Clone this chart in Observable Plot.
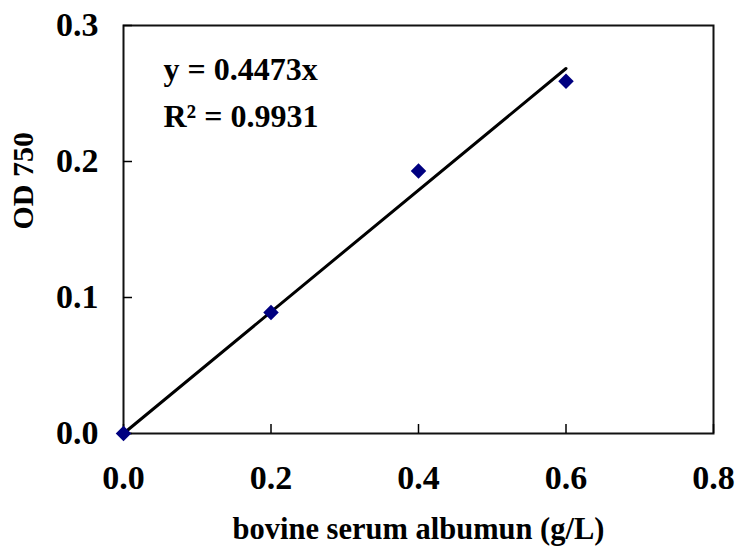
<!DOCTYPE html>
<html>
<head>
<meta charset="utf-8">
<script src="https://cdn.jsdelivr.net/npm/d3@7"></script>
<script src="https://cdn.jsdelivr.net/npm/@observablehq/plot@0.6"></script>
<style>
  body { margin: 0; background: #fff; }
  svg { display: block; }
</style>
</head>
<body>
<div id="chart"></div>
<script>
const concentration = [0, 0.2, 0.4, 0.6];
const od750 = [0, 0.089, 0.193, 0.259];
const slope = 0.4473;
const fitX = [0, 0.6];
const xTicks = [0, 0.2, 0.4, 0.6, 0.8];
const yTicks = [0, 0.1, 0.2, 0.3];
const equationLines = ["y = 0.4473x", "R² = 0.9931"];
const xLabel = "bovine serum albumun (g/L)";
const yLabel = "OD 750";

const points = concentration.map((x, i) => ({x, y: od750[i]}));
const fit = fitX.map(x => ({x, y: slope * x}));

const font = "'Liberation Serif', 'Times New Roman', serif";

const chart = Plot.plot({
  width: 736,
  height: 547,
  marginLeft: 123,
  marginRight: 23,
  marginTop: 25,
  marginBottom: 114,
  style: {fontFamily: font, fontWeight: "bold", fontSize: "30px", color: "#000", background: "#fff"},
  x: {domain: [0, 0.8], label: null},
  y: {domain: [0, 0.3], label: null},
  marks: [
    Plot.frame({stroke: "#111", strokeWidth: 2}),
    Plot.axisX(xTicks, {tickSize: 0, tickPadding: 31, tickFormat: d => d.toFixed(1), fontSize: 34, fontWeight: "bold"}),
    Plot.axisX(xTicks, {tickSize: -9, tickFormat: () => "", strokeWidth: 1.5}),
    Plot.axisY(yTicks, {tickSize: 0, tickPadding: 25, tickFormat: d => d.toFixed(1), fontSize: 34, fontWeight: "bold"}),
    Plot.axisY(yTicks, {tickSize: -9, tickFormat: () => "", strokeWidth: 1.5}),
    Plot.line(fit, {x: "x", y: "y", stroke: "#000", strokeWidth: 3}),
    Plot.dot(points, {x: "x", y: "y", symbol: "diamond2", r: 7, fill: "#000080", stroke: "none"}),
    Plot.text([equationLines.join("\n")], {
      frameAnchor: "top-left", dx: 40, dy: 22, lineHeight: 1.45, lineAnchor: "top",
      text: d => d, fontSize: 32, fontWeight: "bold", textAnchor: "start", fill: "#000"
    }),
    Plot.text([xLabel], {frameAnchor: "bottom", dy: 105, text: d => d, fontSize: 30.5, fontWeight: "bold", fill: "#000"}),
    Plot.text([yLabel], {frameAnchor: "left", dx: -100, rotate: -90, text: d => d, fontSize: 30, fontWeight: "bold", fill: "#000"})
  ]
});
document.getElementById("chart").appendChild(chart);
</script>
</body>
</html>
